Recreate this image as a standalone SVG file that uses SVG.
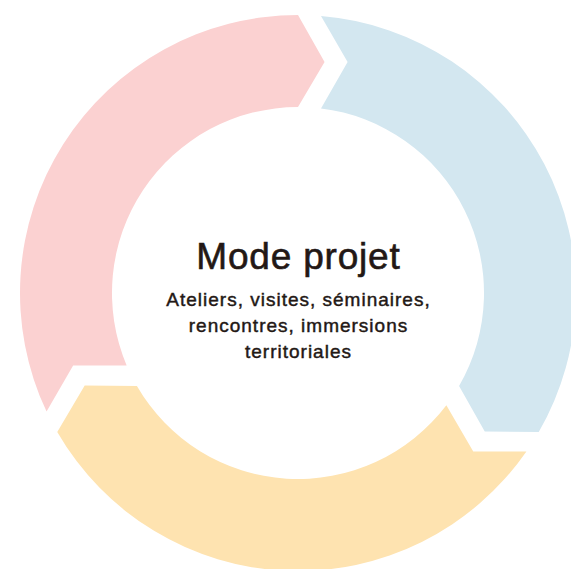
<svg xmlns="http://www.w3.org/2000/svg" width="571" height="569" viewBox="0 0 571 569">
  <style>
    .title { font-family: "Liberation Sans", Arial, sans-serif; font-weight: normal; font-size: 37px; letter-spacing: 0.8px; fill: #231815; stroke: #231815; stroke-width: 0.6px; text-anchor: middle; }
    .sub { font-family: "Liberation Sans", Arial, sans-serif; font-weight: normal; font-size: 19px; letter-spacing: 1px; fill: #231815; stroke: #231815; stroke-width: 0.45px; text-anchor: middle; }
  </style>
  <rect width="571" height="569" fill="#ffffff"/>
  <g id="connectors">
    <g id="arrow-pink">
      <path fill="#FBD1D1" d="M 46.57,411.61 L 73.15,365.55 L 126.64,365.38 A 186 186 0 0 1 298,107 L 324.57,62.02 L 298,15 A 278 278 0 0 0 46.57,411.61 Z"/>
    </g>
    <g id="arrow-blue">
      <path fill="#D3E7F0" d="M 321,15.95 L 347.6,62 L 321,108.4 A 186 186 0 0 1 459.08,386 L 484.75,431.5 L 538.75,432 A 278 278 0 0 0 321,15.95 Z"/>
    </g>
    <g id="arrow-yellow">
      <path fill="#FEE3B0" d="M 526.43,451.45 L 473.25,451.45 L 446.36,405.22 A 186 186 0 0 1 136.92,386 L 84.7,385.48 L 57.25,432 A 278 278 0 0 0 526.43,451.45 Z"/>
    </g>
  </g>
  <g id="center">
    <text class="title" x="298.4" y="269">Mode projet</text>
    <text class="sub" x="298.5" y="306">Ateliers, visites, séminaires,</text>
    <text class="sub" x="298.5" y="332">rencontres, immersions</text>
    <text class="sub" x="298.5" y="358">territoriales</text>
  </g>
</svg>
